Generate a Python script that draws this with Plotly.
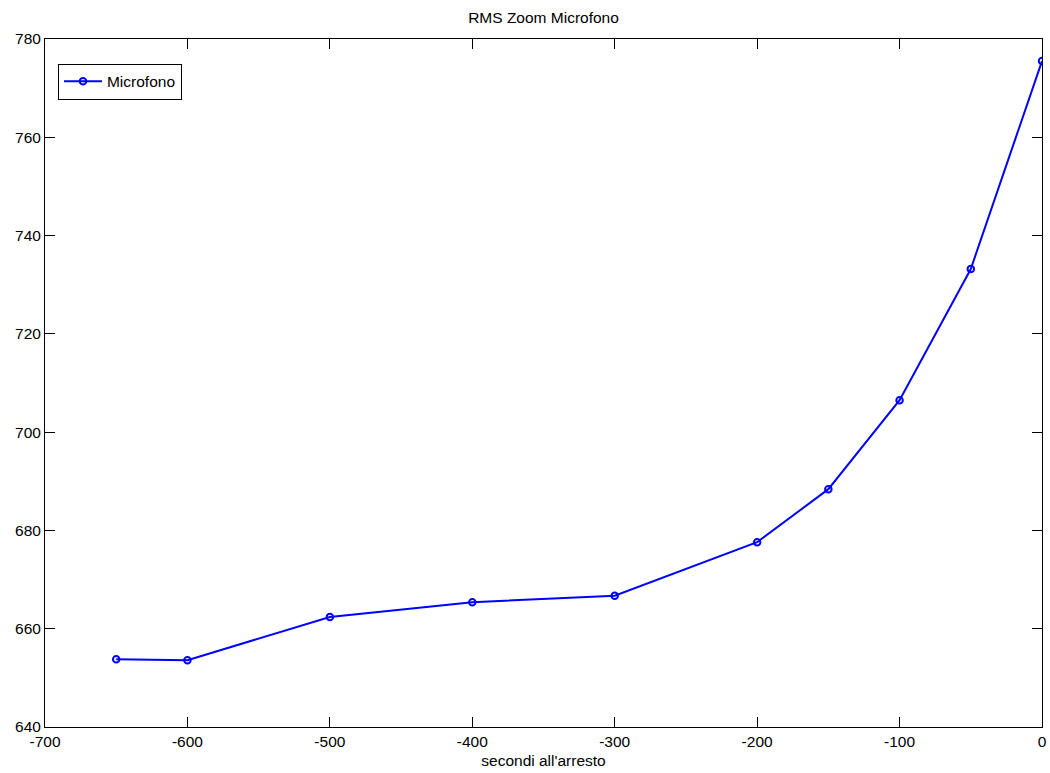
import plotly.graph_objects as go

# RMS values recorded before the stop
seconds = [-650, -600, -500, -400, -300, -200, -150, -100, -50, 0]
rms = [653.8, 653.6, 662.4, 665.4, 666.7, 677.6, 688.4, 706.5, 733.2, 775.5]

x_ticks = [-700, -600, -500, -400, -300, -200, -100, 0]
y_ticks = [640, 660, 680, 700, 720, 740, 760, 780]

font = dict(family="Liberation Sans, Arial, sans-serif", size=15.5, color="black")

fig = go.Figure()
fig.add_trace(go.Scatter(
    x=seconds, y=rms, name="Microfono",
    mode="lines+markers",
    line=dict(color="#0000ff", width=2),
    marker=dict(symbol="circle-open", size=6.5, color="#0000ff", line=dict(width=2, color="#0000ff")),
))

axis_common = dict(
    showgrid=False, zeroline=False, showline=True, linecolor="black", linewidth=1,
    mirror="ticks", ticks="inside", ticklen=10, tickcolor="black", tickwidth=1,
    tickfont=font, automargin=False,
)

fig.update_layout(
    width=1050, height=773,
    margin=dict(l=45, r=8, t=39, b=46),
    paper_bgcolor="white", plot_bgcolor="white",
    font=font,
    title=dict(text="RMS Zoom Microfono", x=0.5, xref="paper", y=1 - 18 / 773, yanchor="middle",
               font=font),
    xaxis=dict(range=[-700, 0], tickvals=x_ticks, ticktext=[str(v) for v in x_ticks],
               title=dict(text="secondi all'arresto", standoff=6, font=font), **axis_common),
    yaxis=dict(range=[640, 780], tickvals=y_ticks, ticktext=[str(v) for v in y_ticks],
               **axis_common),
    showlegend=True,
    legend=dict(x=0.013, y=0.964, xanchor="left", yanchor="top",
                bordercolor="black", borderwidth=1, bgcolor="white",
                font=font, itemwidth=38),
)

fig.write_html("out.html")
